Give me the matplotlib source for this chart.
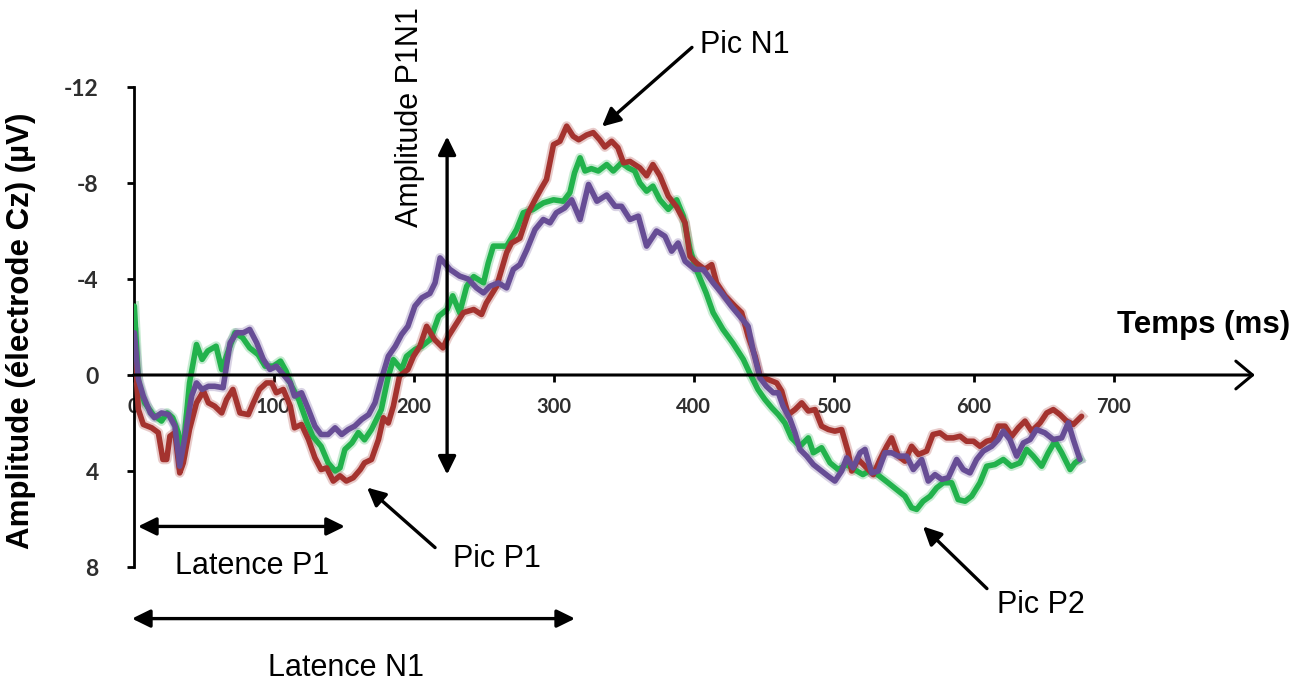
import matplotlib
matplotlib.use('Agg')
import matplotlib.pyplot as plt

# ---------------- data (time in ms, amplitude in µV) ----------------
green_t = [0.6, 3.5, 8, 14, 20, 24, 28, 32, 35, 40,
           45, 49, 53, 59, 63, 68, 72.5, 78, 83, 89,
           94, 100, 105, 109, 113, 118, 124, 128, 134, 139,
           144, 147.5, 151, 156, 160.6, 165, 170, 177, 182, 185.6,
           191.5, 195, 201, 206, 212, 218, 224, 228, 233, 238,
           243, 250, 253.4, 257, 266.5, 273.6, 278.4, 285.5, 292.7, 300,
           307, 311.7, 315, 319, 322.5, 327, 332, 338, 342.7, 348.6,
           353.4, 358, 361.7, 366.5, 371, 376, 382, 388, 392.7, 397.5,
           402, 409, 414, 421, 428, 435.6, 440, 446, 451, 456,
           460.6, 465.3, 470, 476, 482, 485.6, 491.5, 497.5, 503.4, 509.4,
           515, 521, 527, 533, 539, 545, 551, 555.8, 559.4, 564,
           569, 573.7, 578.4, 584.4, 589, 594, 598.7, 604.6, 609.4, 615.3,
           621.3, 627, 633.2, 638, 642.7, 648.7, 653.4, 658.2, 663, 669,
           672.5, 676]
green_v = [-2.87, 0.33, 1.16, 1.65, 1.92, 1.58, 1.78, 2.4, 3.4, 0.33,
           -1.27, -0.65, -1.0, -1.2, -0.23, -1.06, -1.76, -1.55, -1.13, -0.85,
           -0.37, -0.37, -0.58, -0.16, 0.47, 1.02, 2.0, 2.55, 2.97, 3.66,
           4.0, 3.87, 3.1, 2.83, 2.4, 2.7, 2.27, 1.44, 0.05, -0.64,
           -0.23, -0.78, -1.06, -1.2, -1.48, -2.45, -2.73, -3.3, -2.6, -3.7,
           -4.1, -3.84, -4.67, -5.37, -5.37, -6.06, -6.76, -6.9, -7.17, -7.3,
           -7.24, -7.6, -8.42, -9.05, -8.5, -8.6, -8.5, -8.77, -8.5, -8.84,
           -8.63, -8.5, -8.0, -7.66, -7.87, -7.3, -6.9, -7.3, -6.62, -5.23,
           -4.4, -3.42, -2.6, -1.9, -1.34, -0.65, -0.1, 0.6, 1.02, 1.37,
           1.65, 2.0, 2.62, 2.97, 2.62, 3.24, 3.03, 3.66, 3.94, 3.73,
           3.94, 4.15, 3.94, 4.22, 4.49, 4.77, 5.05, 5.53, 5.6, 5.26,
           5.05, 4.7, 4.49, 4.49, 5.19, 5.26, 5.05, 4.49, 3.8, 3.73,
           3.52, 3.8, 3.66, 3.1, 3.38, 3.8, 3.24, 2.76, 3.24, 3.94,
           3.66, 3.52]

red_t = [0.6, 3.5, 7, 13, 17.7, 21, 23.7, 26, 29.6, 33,
         35.6, 40, 45, 50, 53.5, 58, 63, 66.5, 71, 76,
         82, 85.6, 90, 95, 98.7, 102, 107, 112, 115, 120,
         125, 129.6, 134, 138, 142.7, 147.5, 152, 157, 162, 165,
         170, 175, 178.5, 182, 185.6, 190, 196, 200, 204.6, 209.4,
         215, 221, 225, 231, 235.6, 243, 248.6, 252, 259.4, 266.5,
         270, 276, 282, 286.8, 291.5, 295, 300, 304.6, 309.4, 314,
         318, 323.6, 328.4, 333, 336.7, 341.5, 346, 350, 354.6, 361.7,
         366.5, 371, 376, 382, 388, 394, 397.5, 402, 408, 413,
         416.5, 422.5, 429.6, 434.4, 439, 444, 447.5, 453.4, 459.4, 463,
         467.7, 472.5, 477.3, 482, 486.8, 491.5, 496.3, 501, 505.8, 510.6,
         513, 517.7, 523.7, 528.4, 533.2, 538, 541.5, 546.3, 551, 555.8,
         560.6, 566.5, 571, 576, 580.8, 585.6, 590.4, 595, 600, 604.6,
         609.4, 614, 617.7, 622.5, 627.3, 632, 636.8, 641.5, 647.5, 652.3,
         657, 661.8, 666.5, 671.3, 677.2]
red_v = [-1.2, 1.44, 2.06, 2.2, 2.4, 3.52, 3.52, 2.55, 2.4, 4.08,
         3.66, 2.27, 1.16, 0.67, 1.16, 1.3, 1.58, 1.02, 0.6, 1.58,
         1.65, 1.16, 0.6, 0.33, 0.33, 0.74, 0.6, 1.3, 2.2, 2.06,
         2.69, 3.45, 3.94, 3.87, 4.42, 4.2, 4.42, 4.28, 3.94, 3.66,
         3.52, 2.69, 1.78, 2.0, 1.3, 0.05, -0.23, -0.78, -1.2, -2.03,
         -1.48, -1.13, -1.62, -2.17, -2.6, -2.73, -2.52, -3.0, -3.7, -5.1,
         -5.5, -5.7, -6.76, -7.3, -7.8, -8.15, -9.6, -9.74, -10.37, -9.95,
         -9.8, -10.0, -10.1, -9.8, -9.5, -9.74, -9.47, -8.84, -8.9, -8.63,
         -8.3, -8.77, -8.3, -7.45, -7.0, -6.34, -4.95, -4.67, -4.4, -4.6,
         -3.84, -3.3, -2.87, -2.6, -1.62, -0.78, 0.05, 0.19, 0.33, 0.67,
         1.65, 1.44, 1.16, 1.5, 1.44, 2.13, 2.27, 2.34, 2.27, 3.24,
         4.0, 3.52, 3.87, 4.15, 3.52, 2.97, 2.62, 3.38, 3.59, 2.97,
         3.31, 3.17, 2.48, 2.41, 2.62, 2.62, 2.55, 2.76, 2.76, 2.97,
         2.76, 2.69, 2.13, 2.13, 2.55, 2.2, 1.92, 2.34, 2.0, 1.58,
         1.44, 1.65, 1.92, 2.06, 1.72]

purple_t = [0.6, 3.5, 7, 12, 15, 20, 25, 29.6, 33, 36.8,
            41.5, 45, 49, 53.5, 58, 64, 69, 73.7, 78.5, 83,
            88, 92.7, 97.5, 102, 107, 112, 115, 120, 125, 129.6,
            134, 139, 144, 148.7, 153.4, 158, 163, 168, 172.5, 177,
            182, 187, 191.5, 196, 201, 206, 211.7, 215.4, 219, 226,
            233, 239, 245, 250, 254.6, 260.6, 266.5, 271.3, 276, 281,
            286.8, 292.7, 297.5, 302, 308, 313, 319, 325, 331, 338,
            344, 348.6, 354.6, 360.6, 366.5, 373.6, 379.6, 384.4, 389, 394,
            401, 407, 414, 420, 427, 433, 439, 442.7, 447.5, 452,
            457, 460.6, 464, 469, 472.5, 476, 480.8, 485.6, 491.5, 496.3,
            501, 505.8, 509.4, 514, 519, 522.5, 527.3, 532, 536.8, 541.5,
            546.3, 552.3, 557, 563, 567.7, 572.5, 577.3, 582, 588, 592.7,
            597.5, 602.2, 607, 613, 617.7, 621.3, 626, 630.8, 635.6, 640.4,
            645, 651, 657, 663, 667.7, 671.3, 676]
purple_v = [-1.76, 0.19, 0.88, 1.58, 1.78, 1.58, 1.65, 2.13, 3.8, 2.55,
            0.88, 0.33, 0.6, 0.47, 0.47, 0.53, -1.34, -1.76, -1.76, -1.9,
            -1.34, -0.65, -0.23, -0.37, -0.02, 0.33, 0.88, 0.74, 1.44, 2.13,
            2.48, 2.48, 2.2, 2.48, 2.27, 2.13, 1.85, 1.65, 1.16, 0.19,
            -0.78, -1.2, -1.69, -2.03, -2.87, -3.22, -3.4, -3.84, -4.88, -4.4,
            -4.12, -4.0, -3.63, -3.42, -3.7, -3.84, -3.63, -4.4, -4.6, -5.23,
            -6.06, -6.48, -6.34, -6.76, -6.96, -7.3, -6.48, -7.94, -7.24, -7.5,
            -7.03, -7.03, -6.48, -6.62, -5.37, -6.0, -5.78, -5.16, -5.5, -4.74,
            -4.4, -4.4, -3.84, -3.42, -2.87, -2.45, -2.03, -1.0, 0.12, 0.47,
            0.74, 0.74, 1.3, 1.85, 2.41, 3.1, 3.38, 3.73, 4.0, 4.22,
            4.42, 4.0, 3.45, 3.87, 3.24, 3.1, 4.08, 4.0, 3.24, 3.24,
            3.38, 3.38, 3.94, 3.52, 4.42, 4.15, 4.35, 4.28, 3.52, 3.94,
            4.08, 3.52, 3.17, 2.97, 2.69, 2.34, 2.69, 3.38, 2.83, 2.69,
            2.27, 2.41, 2.69, 2.62, 1.99, 2.69, 3.52]

x_ticks = [0, 100, 200, 300, 400, 500, 600, 700]
y_ticks = [-12, -8, -4, 0, 4, 8]

series = [(green_t, green_v, '#22b24c'),
          (red_t, red_v, '#a4332f'),
          (purple_t, purple_v, '#674d95')]

# ---------------- figure ----------------
W, H = 1296, 684
fig = plt.figure(figsize=(W / 100, H / 100), dpi=100)
ax = fig.add_axes([133.5 / W, (H - 567) / H, 1120 / W, 480 / H])
ax.set_xlim(0, 800)
ax.set_ylim(8, -12)

for t, v, c in series:
    ax.plot(t, v, color=c, lw=7, alpha=0.25, solid_joinstyle='round', zorder=2)
    ax.plot(t, v, color=c, lw=4.0, solid_joinstyle='round', solid_capstyle='round', zorder=3)

# axes styling
for s in ['top', 'right']:
    ax.spines[s].set_visible(False)
ax.spines['left'].set_linewidth(2.0)
ax.spines['bottom'].set_position(('data', 0))
ax.spines['bottom'].set_visible(False)

tick_font = dict(family='Lato', weight='bold', color='#2e2e2e')
ax.set_xticks(x_ticks)
ax.set_xticklabels([str(x) for x in x_ticks], fontsize=14.5, **tick_font)
ax.set_yticks(y_ticks)
ax.set_yticklabels([str(y) for y in y_ticks], fontsize=16.5, **tick_font)
ax.tick_params(axis='x', direction='out', length=5, width=2.0, pad=11)
ax.tick_params(axis='y', direction='out', length=5, width=2.0, pad=20)

# x-axis with open arrow head
ax.annotate('', xy=(801, 0), xytext=(0, 0), annotation_clip=False,
            arrowprops=dict(arrowstyle='->, head_length=0.6, head_width=0.5',
                            lw=2.2, color='black', mutation_scale=20,
                            shrinkA=0, shrinkB=0), zorder=4)

txt = dict(family='Liberation Sans', fontsize=22, color='black')
arr1 = dict(arrowstyle='-|>, head_length=0.55, head_width=0.27', lw=2.4,
            color='black', mutation_scale=20, shrinkA=0, shrinkB=0)
arr2 = dict(arrowstyle='<|-|>, head_length=0.55, head_width=0.27', lw=2.4,
            color='black', mutation_scale=20, shrinkA=0, shrinkB=0)

# Pic N1
ax.annotate('', xy=(334.6, -10.35), xytext=(398.9, -13.65), arrowprops=arr1,
            annotation_clip=False, zorder=5)
ax.text(404.6, -13.4, 'Pic N1', ha='left', va='baseline', **txt)

# Amplitude P1N1
ax.annotate('', xy=(224, -9.94), xytext=(224, 4.15), arrowprops=arr2,
            annotation_clip=False, zorder=5)
ax.text(197.5, -10.75, 'Amplitude P1N1', rotation=90, ha='center', va='center', **txt)

# Pic P1
ax.annotate('', xy=(166.8, 4.69), xytext=(215.4, 7.19), arrowprops=arr1,
            annotation_clip=False, zorder=5)
ax.text(228.2, 7.98, 'Pic P1', ha='left', va='baseline', **txt)

# Latence P1
ax.annotate('', xy=(3.2, 6.31), xytext=(151, 6.31), arrowprops=arr2,
            annotation_clip=False, zorder=5)
ax.text(85, 8.31, 'Latence P1', ha='center', va='baseline', **txt)

# Latence N1
ax.annotate('', xy=(-1.1, 10.15), xytext=(315.4, 10.15), arrowprops=arr2,
            annotation_clip=False, zorder=5)
ax.text(151.8, 12.56, 'Latence N1', ha='center', va='baseline', **txt)

# Pic P2
ax.annotate('', xy=(563.9, 6.31), xytext=(609.6, 8.9), arrowprops=arr1,
            annotation_clip=False, zorder=5)
ax.text(616.8, 9.9, 'Pic P2', ha='left', va='baseline', **txt)

# axis titles
fig.text(21 / W, 1 - 331 / H, 'Amplitude (électrode Cz) (µV)', rotation=90,
         ha='center', va='center', family='Liberation Sans', weight='bold',
         fontsize=22.5)
fig.text(1117 / W, 1 - 333 / H, 'Temps (ms)', ha='left', va='baseline',
         family='Liberation Sans', weight='bold', fontsize=22.5)

fig.savefig('out.png', dpi=100)
